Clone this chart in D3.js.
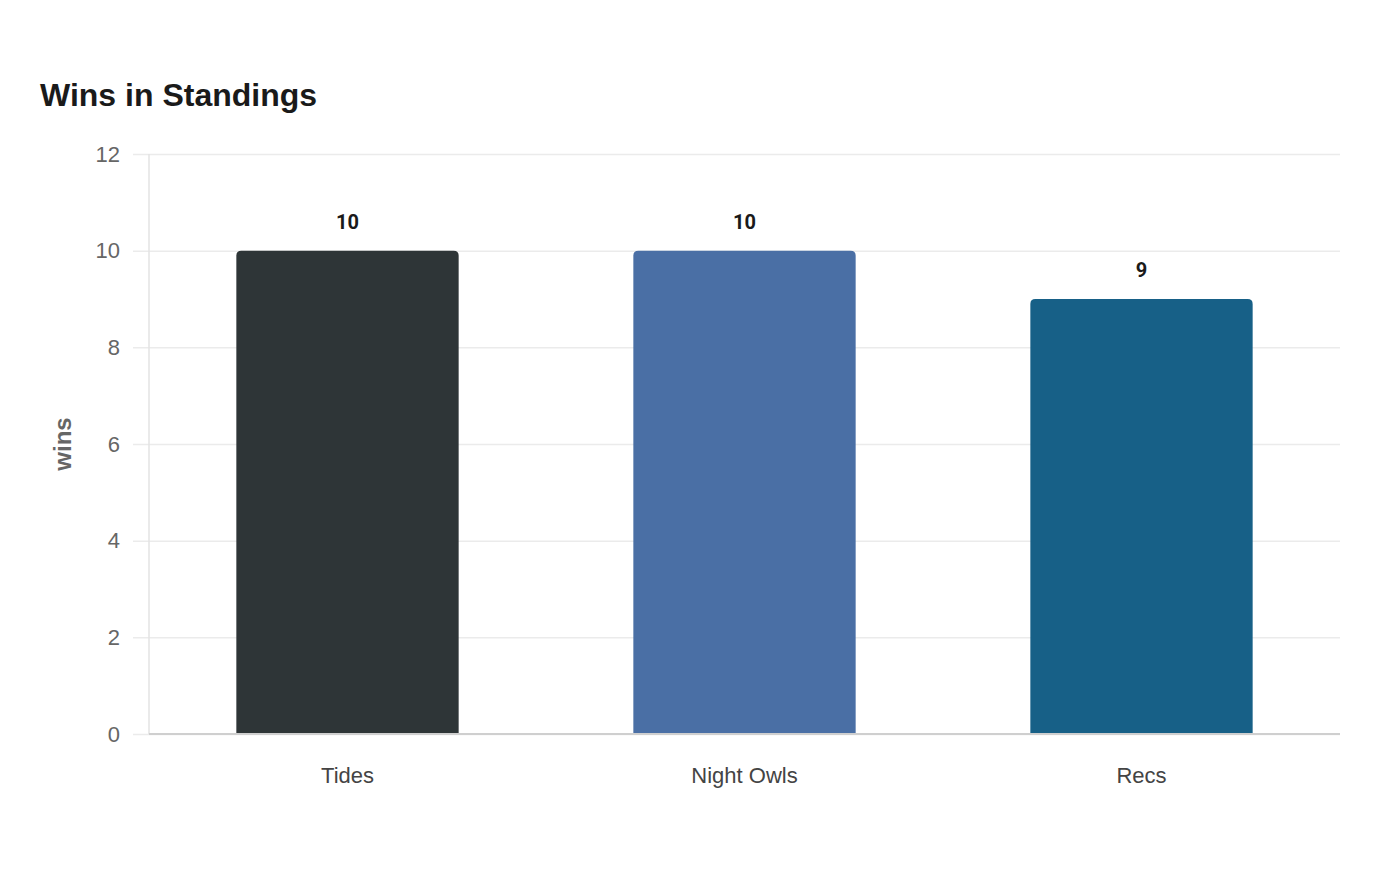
<!DOCTYPE html>
<html><head><meta charset="utf-8">
<script src="https://cdn.jsdelivr.net/npm/d3@7"></script>
<style>body{margin:0;background:#fff;}svg{display:block;font-family:"Liberation Sans",Arial,sans-serif;}</style>
</head><body>
<svg id="c" width="1400" height="880"></svg>
<script>
const categories = ["Tides", "Night Owls", "Recs"];
const wins = [10, 10, 9];
const colors = ["#2e3537", "#4a6fa5", "#176087"];
const yTicks = [0, 2, 4, 6, 8, 10, 12];

const svg = d3.select("#c");
const m = {left:149, right:1340, top:154, bottom:734};
const x = d3.scaleBand().domain(categories).range([m.left, m.right]).paddingInner(0.44).paddingOuter(0.22);
const y = d3.scaleLinear().domain([0, 12]).range([m.bottom, m.top]);

svg.append("text").attr("x", 40).attr("y", 106).attr("font-size", 32).attr("font-weight", "bold").attr("fill", "#1a1a1a").text("Wins in Standings");

// grid
const ya = svg.append("g").attr("transform", `translate(${m.left},0)`)
  .call(d3.axisLeft(y).tickValues(yTicks).tickSize(16).tickPadding(14));
ya.select(".domain").remove();
ya.selectAll(".tick line").attr("stroke", "#ebebeb").attr("stroke-width", 1.5).attr("x2", m.right - m.left);
ya.selectAll(".tick line").attr("x1", -16);
ya.selectAll(".tick text").attr("font-size", 22).attr("fill", "#666").attr("dx", 1).attr("font-family", "Liberation Sans, Arial, sans-serif");

svg.append("line").attr("x1", m.left).attr("x2", m.left).attr("y1", m.top).attr("y2", m.bottom).attr("stroke", "#e3e3e3").attr("stroke-width", 1.5);

// bars with rounded top corners
const r = 5;
svg.append("g").selectAll("path").data(categories).join("path")
  .attr("fill", (d,i) => colors[i])
  .attr("d", (d,i) => {
    const x0 = x(d), w = x.bandwidth(), y0 = y(wins[i]), y1 = y(0);
    return `M${x0},${y1}V${y0+r}Q${x0},${y0} ${x0+r},${y0}H${x0+w-r}Q${x0+w},${y0} ${x0+w},${y0+r}V${y1}Z`;
  });

svg.append("line").attr("x1", m.left).attr("x2", m.right).attr("y1", m.bottom).attr("y2", m.bottom).attr("stroke", "#cfcfcf").attr("stroke-width", 2);

// value labels
svg.append("g").selectAll("text").data(categories).join("text")
  .attr("x", d => x(d) + x.bandwidth()/2)
  .attr("y", (d,i) => y(wins[i]) - 22)
  .attr("text-anchor", "middle").attr("font-size", 20).attr("font-weight", "bold").attr("fill", "#1a1a1a")
  .attr("font-family", "Roboto, Liberation Sans, sans-serif")
  .text((d,i) => wins[i]);

// x axis labels
const xa = svg.append("g").attr("transform", `translate(0,${m.bottom})`)
  .call(d3.axisBottom(x).tickSize(0).tickPadding(33));
xa.select(".domain").remove();
xa.selectAll(".tick text").attr("font-size", 22).attr("fill", "#444").attr("font-family", "Liberation Sans, Arial, sans-serif");

svg.append("text").attr("transform", `translate(71,${(m.top+m.bottom)/2}) rotate(-90)`)
  .attr("text-anchor", "middle").attr("font-size", 24).attr("font-weight", "bold").attr("fill", "#666").text("wins");
</script>
</body></html>
